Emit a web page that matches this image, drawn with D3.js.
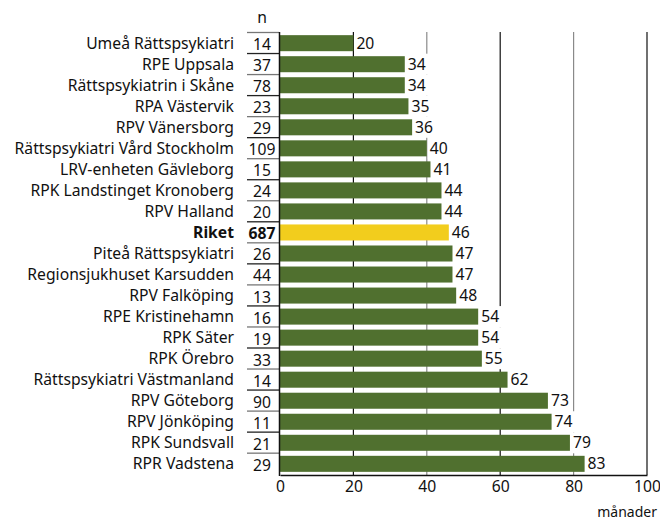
<!DOCTYPE html>
<html>
<head>
<meta charset="utf-8">
<script src="https://cdn.jsdelivr.net/npm/d3@7"></script>
<style>
  html, body { margin: 0; padding: 0; background: #fff; }
  svg { display: block; font-family: "Noto Sans", "Open Sans", sans-serif; }
</style>
</head>
<body>
<svg id="chart" width="660" height="520"></svg>
<script>
const categories = [
  "Umeå Rättspsykiatri", "RPE Uppsala", "Rättspsykiatrin i Skåne", "RPA Västervik",
  "RPV Vänersborg", "Rättspsykiatri Vård Stockholm", "LRV-enheten Gävleborg",
  "RPK Landstinget Kronoberg", "RPV Halland", "Riket", "Piteå Rättspsykiatri",
  "Regionsjukhuset Karsudden", "RPV Falköping", "RPE Kristinehamn", "RPK Säter",
  "RPK Örebro", "Rättspsykiatri Västmanland", "RPV Göteborg", "RPV Jönköping",
  "RPK Sundsvall", "RPR Vadstena"
];
const nValues = [14, 37, 78, 23, 29, 109, 15, 24, 20, 687, 26, 44, 13, 16, 19, 33, 14, 90, 11, 21, 29];
const values = [20, 34, 34, 35, 36, 40, 41, 44, 44, 46, 47, 47, 48, 54, 54, 55, 62, 73, 74, 79, 83];
const highlight = "Riket";
const xTicks = [0, 20, 40, 60, 80, 100];
const xUnit = "månader";
const nHeader = "n";

const data = categories.map((c, i) => ({ cat: c, n: nValues[i], v: values[i] }));

const FS = 15.7;
const svg = d3.select("#chart");
const x = d3.scaleLinear().domain([0, 100]).range([280, 647]);
const y = d3.scaleBand().domain(categories).range([32, 475]).paddingInner(0.238).paddingOuter(0.15);
const step = y.step();
const green = "#50702f", yellow = "#f2cd1d";

// gridlines
svg.append("g").selectAll("line").data(xTicks.filter(t => t > 0)).join("line")
  .attr("x1", d => x(d)).attr("x2", d => x(d))
  .attr("y1", 32).attr("y2", 475)
  .attr("stroke", d => (d === 40 || d === 80) ? "#8a8a8a" : "#111")
  .attr("stroke-width", 1.2);

// white label backgrounds covering the full row
svg.append("g").selectAll("rect").data(data).join("rect")
  .attr("class", "lblbg")
  .attr("x", d => x(d.v) + 1)
  .attr("y", d => y(d.cat) + y.bandwidth() / 2 - step / 2)
  .attr("height", step)
  .attr("fill", "#fff");

// bars
svg.append("g").selectAll("rect").data(data).join("rect")
  .attr("x", x(0)).attr("y", d => y(d.cat))
  .attr("width", d => x(d.v) - x(0)).attr("height", y.bandwidth())
  .attr("fill", d => d.cat === highlight ? yellow : green);

// value labels
const vt = svg.append("g").selectAll("text").data(data).join("text")
  .attr("x", d => x(d.v) + 3).attr("y", d => y(d.cat) + y.bandwidth() / 2)
  .attr("dy", "0.36em").attr("font-size", FS).attr("fill", "#111")
  .text(d => d.v);
const widths = vt.nodes().map(n => n.getComputedTextLength());
svg.selectAll("rect.lblbg").attr("width", (d, i) => widths[i] + 6);

// n column separators
svg.append("g").selectAll("line").data(categories).join("line")
  .attr("x1", 247).attr("x2", 279)
  .attr("y1", d => y(d) - y.paddingOuter() * step + 0.5)
  .attr("y2", d => y(d) - y.paddingOuter() * step + 0.5)
  .attr("stroke", (d, i) => i % 2 ? "#222" : "#777").attr("stroke-width", 1.3);

// n values
svg.append("g").selectAll("text").data(data).join("text")
  .attr("x", 262).attr("y", d => y(d.cat) + y.bandwidth() / 2 + 1)
  .attr("dy", "0.38em").attr("text-anchor", "middle").attr("font-size", FS)
  .attr("font-weight", d => d.cat === highlight ? "bold" : "normal")
  .attr("fill", "#111").text(d => d.n);

svg.append("text").attr("x", 262).attr("y", 23).attr("text-anchor", "middle")
  .attr("font-size", FS).attr("fill", "#111").text(nHeader);

// category labels
svg.append("g").selectAll("text").data(data).join("text")
  .attr("x", 234).attr("y", d => y(d.cat) + y.bandwidth() / 2)
  .attr("dy", "0.36em").attr("text-anchor", "end").attr("font-size", FS)
  .attr("font-weight", d => d.cat === highlight ? "bold" : "normal")
  .attr("fill", "#111").text(d => d.cat);

// y axis line
svg.append("line").attr("x1", 279.5).attr("x2", 279.5).attr("y1", 32).attr("y2", 476)
  .attr("stroke", "#111").attr("stroke-width", 1.5);

// x axis
const xAxis = d3.axisBottom(x).tickValues(xTicks).tickSize(0).tickPadding(6);
const ax = svg.append("g").attr("transform", "translate(0,475)").call(xAxis);
ax.select(".domain").attr("stroke", "#111").attr("stroke-width", 1.5);
ax.selectAll("text").attr("font-size", FS).attr("fill", "#111")
  .attr("font-family", "'Noto Sans', 'Open Sans', sans-serif");

svg.append("text").attr("x", 657).attr("y", 517).attr("text-anchor", "end")
  .attr("font-size", 14).attr("fill", "#111").text(xUnit);
</script>
</body>
</html>
